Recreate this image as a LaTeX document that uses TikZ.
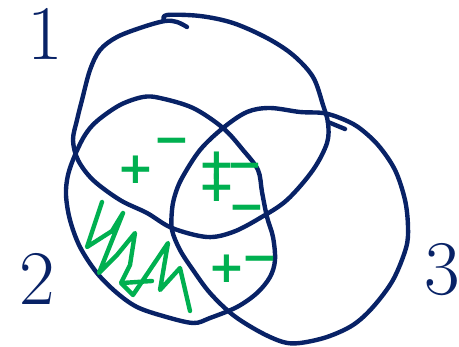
\documentclass[tikz,border=0pt]{standalone}
\usepackage{fontspec}
\usepackage{xcolor}
\usepackage{tikz}
\newfontfamily\signfont{DejaVu Sans}
\definecolor{inkblue}{RGB}{8,34,102}
\definecolor{inkgreen}{RGB}{0,176,80}
\begin{document}
\begin{tikzpicture}[
    x=0.02cm,y=-0.02cm,
    penline/.style={draw=inkblue,line width=2.5pt,line cap=round,line join=round},
    greenpen/.style={draw=inkgreen,line width=2.5pt,line cap=round,line join=round},
    numlabel/.style={text=inkblue,inner sep=0pt,font=\fontsize{44}{44}\selectfont},
    signlabel/.style={text=inkgreen,inner sep=0pt,
                      font={\signfont\bfseries\fontsize{25}{12.5}\selectfont\lineskiplimit-30pt}}
]
\useasboundingbox (0,0) rectangle (459,347);

\draw[penline] plot[smooth,tension=0.55] coordinates {
    (187,27) (177,22) (165,21) (143,27) (117,37) (100,50) (90,70) (82,100)
    (77,120) (73,140) (78,160) (93,180) (120,200) (147,213) (172,228)
    (207,237) (233,232) (260,218) (287,200) (313,170) (327,143) (328,123)
    (323,105) (313,77) (293,55) (267,38) (233,23) (200,16) (167,15) (164,20)};
\draw[penline] (328,122) -- (345,129);

\draw[penline] plot[smooth cycle,tension=0.55] coordinates {
    (143,97) (160,98) (193,108) (223,128) (243,150) (258,170) (262,192)
    (267,217) (273,237) (275,260) (270,277) (257,293) (237,307) (210,318)
    (193,323) (163,316) (137,307) (117,293) (97,273) (80,247) (70,220)
    (66,195) (68,175) (75,155) (85,135) (97,121) (120,105)};

\draw[penline] plot[smooth cycle,tension=0.55] coordinates {
    (223,128) (247,112) (270,108) (300,112) (323,113) (340,118) (358,127)
    (378,145) (395,170) (405,200) (408,227) (406,248) (393,280) (373,307)
    (353,325) (327,337) (300,343) (283,342) (260,332) (233,315) (210,293)
    (193,270) (180,250) (172,230) (172,210) (175,195) (182,178) (200,150)};

\draw[greenpen] (102,202) -- (87,247) -- (112,231) -- (123,213) -- (99,273)
    -- (117,255) -- (135,233) -- (130,265) -- (121,283) -- (133,295)
    -- (168,243) -- (160,290) -- (180,268) -- (190,311);
\draw[greenpen] (122,283) -- (152,281);

\node[numlabel] (one) at (45,34) {1};
\node[numlabel] (two) at (37,279) {2};
\node[numlabel] (three) at (442,270) {3};

\node[signlabel] (plusA) at (136,170) {+};
\node[signlabel] (minusA) at (172,146) {−};
\node[signlabel,align=left,anchor=north west] (centerSigns) at (198,152)
    {+\kern-0.2em−\\+\kern-0.15em\raisebox{-0.45em}{−}};
\node[signlabel] (plusD) at (227,269) {+};
\node[signlabel] (minusD) at (260,264) {−};
\end{tikzpicture}
\end{document}
